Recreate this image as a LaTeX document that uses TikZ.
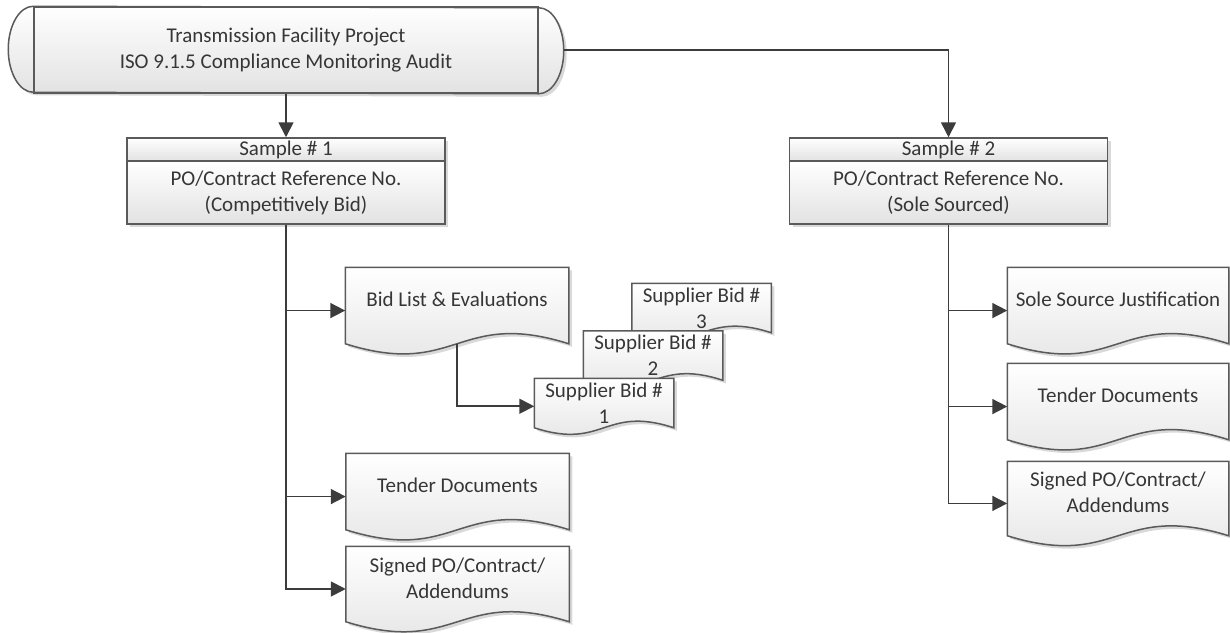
\documentclass[tikz,border=0pt]{standalone}
\usepackage{fontspec}
\setmainfont{Carlito}
\usetikzlibrary{positioning,arrows.meta,shadows,backgrounds}

\definecolor{edgegray}{HTML}{5A5A5A}
\definecolor{linegray}{HTML}{3C3C3C}
\definecolor{inkgray}{HTML}{363636}
\definecolor{shadegray}{HTML}{E2E2E2}

% sheet of paper with a wavy lower edge (flowchart document symbol)
\makeatletter
\pgfdeclareshape{wavedoc}{
  \inheritsavedanchors[from=rectangle]
  \inheritanchorborder[from=rectangle]
  \inheritanchor[from=rectangle]{center}
  \inheritanchor[from=rectangle]{north}
  \inheritanchor[from=rectangle]{south}
  \inheritanchor[from=rectangle]{west}
  \inheritanchor[from=rectangle]{east}
  \inheritanchor[from=rectangle]{north west}
  \inheritanchor[from=rectangle]{north east}
  \inheritanchor[from=rectangle]{south west}
  \inheritanchor[from=rectangle]{south east}
  % entry point halfway down the whole sheet, wave included
  \anchor{in}{%
    \southwest \pgf@xa=\pgf@x \pgf@ya=\pgf@y
    \northeast \pgf@yb=\pgf@y
    \pgf@yc=\pgf@yb \advance\pgf@yc by -\pgf@ya
    \pgf@y=.5\pgf@ya \advance\pgf@y by .5\pgf@yb
    \advance\pgf@y by -.066\pgf@yc
    \pgf@x=\pgf@xa
  }
  \backgroundpath{%
    \southwest \pgf@xa=\pgf@x \pgf@ya=\pgf@y
    \northeast \pgf@xb=\pgf@x \pgf@yb=\pgf@y
    \pgf@xc=.5\pgf@xa \advance\pgf@xc by .5\pgf@xb
    \pgf@yc=\pgf@yb \advance\pgf@yc by -\pgf@ya
    \pgf@yc=.46\pgf@yc
    \edef\docL{\the\pgf@xa}\edef\docR{\the\pgf@xb}%
    \edef\docB{\the\pgf@ya}\edef\docT{\the\pgf@yb}%
    \edef\docM{\the\pgf@xc}%
    \advance\pgf@ya by \pgf@yc \edef\docUp{\the\pgf@ya}%
    \advance\pgf@ya by -2\pgf@yc \edef\docDn{\the\pgf@ya}%
    \pgfpathmoveto{\pgfqpoint{\docL}{\docT}}%
    \pgfpathlineto{\pgfqpoint{\docR}{\docT}}%
    \pgfpathlineto{\pgfqpoint{\docR}{\docB}}%
    \pgfpathcurveto{\pgfqpoint{\docM}{\docUp}}{\pgfqpoint{\docM}{\docDn}}{\pgfqpoint{\docL}{\docB}}%
    \pgfpathclose
  }
}
\makeatother

\begin{document}
\begin{tikzpicture}[x=0.5pt, y=-0.5pt,
    font=\fontsize{10.5}{13}\selectfont, text=inkgray,
    box/.style={draw=edgegray, line width=0.75pt, top color=white, bottom color=shadegray,
                drop shadow={shadow xshift=1.5pt, shadow yshift=-1.5pt, opacity=0.3}},
    doc/.style={box, shape=wavedoc, align=center, inner sep=0pt,
                minimum width=111pt, minimum height=37.5pt, text depth=6pt},
    bid/.style={box, shape=wavedoc, align=center, inner sep=0pt,
                minimum width=69pt, minimum height=24pt},
    head/.style={box, inner sep=0pt, minimum width=159pt, minimum height=11.5pt},
    ref/.style={box, align=center, inner sep=0pt, minimum width=159pt, minimum height=31.5pt},
    conn/.style={draw=linegray, line width=0.85pt, -{Triangle[length=7.5pt, width=7.5pt]}}
  ]
  \useasboundingbox (0,0) rectangle (1230,632);

  % audit heading with rounded caps
  \node[draw=edgegray, line width=0.75pt, minimum width=252pt, minimum height=43pt,
        inner sep=0pt, align=center] (audit) at (286,50)
    {Transmission Facility Project\\ISO 9.1.5 Compliance Monitoring Audit};
  \begin{scope}[on background layer]
    \path[box] (audit.north west) arc[start angle=90, end angle=270, x radius=12.5pt, y radius=21.5pt]
      -- (audit.south east) arc[start angle=-90, end angle=90, x radius=12.5pt, y radius=21.5pt] -- cycle;
  \end{scope}

  % the two samples
  \node[head] (s1head) at (286,149.5) {Sample \# 1};
  \node[ref, below=-0.75pt of s1head] (s1) {PO/Contract Reference No.\\(Competitively Bid)};
  \node[head] (s2head) at (948.5,149.5) {Sample \# 2};
  \node[ref, below=-0.75pt of s2head] (s2) {PO/Contract Reference No.\\(Sole Sourced)};

  % records for sample 1
  \node[doc] (bidlist) at (457,305.5) {Bid List \& Evaluations};
  \node[doc] (tender1) at (457.5,491.5) {Tender Documents};
  \node[doc, minimum height=37pt] (signed1) at (457.5,584) {Signed PO/Contract/\\Addendums};
  \foreach \n/\x/\y in {3/701.5/308, 2/653/355.5, 1/604/403}
    \node[bid] (bid\n) at (\x,\y) {Supplier Bid \#\\\n};

  % records for sample 2
  \node[doc, minimum width=110pt] (sole) at (1118,305.5) {Sole Source Justification};
  \node[doc, minimum width=110pt] (tender2) at (1118,401.5) {Tender Documents};
  \node[doc, minimum width=110pt, minimum height=36.5pt] (signed2) at (1118,498.5) {Signed PO/Contract/\\Addendums};

  % connectors
  \draw[conn] (audit.south) -- (s1head.north);
  \draw[conn] ([xshift=12.5pt]audit.east) -| (s2head.north);
  \foreach \d in {bidlist,tender1,signed1}
    \draw[conn] (s1.south) |- (\d.in);
  \foreach \d in {sole,tender2,signed2}
    \draw[conn] (s2.south) |- (\d.in);
  \draw[conn] (bidlist.south) |- (bid1.in);
\end{tikzpicture}
\end{document}
